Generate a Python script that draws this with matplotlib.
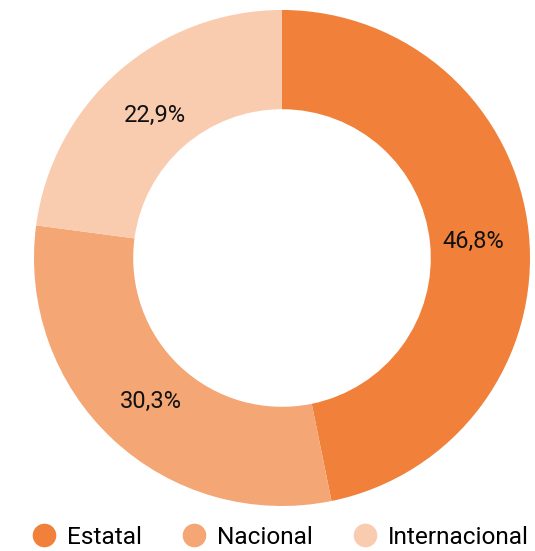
import numpy as np
import matplotlib.pyplot as plt
from matplotlib.lines import Line2D

plt.rcParams['font.family'] = ['Roboto', 'DejaVu Sans']

categories = ["Estatal", "Nacional", "Internacional"]
values = [46.8, 30.3, 22.9]
labels = ["46,8%", "30,3%", "22,9%"]
colors = ["#F0803A", "#F4A674", "#F9CBAF"]

W, H = 535, 551
fig = plt.figure(figsize=(W / 100, H / 100), dpi=100)
cx, cy, r = 282, 258, 248
ax = fig.add_axes([(cx - r) / W, (H - cy - r) / H, 2 * r / W, 2 * r / H])

wedges, _ = ax.pie(values, colors=colors, startangle=90, counterclock=False,
                   radius=1, wedgeprops=dict(width=0.4, edgecolor="none"))
ax.set_xlim(-1, 1)
ax.set_ylim(-1, 1)
ax.set_aspect("equal")
ax.axis("off")

# percentage labels in the middle of the ring
start = 90
for v, lab in zip(values, labels):
    ang = np.deg2rad(start - v * 3.6 / 2)
    ax.text(0.775 * np.cos(ang), 0.775 * np.sin(ang) - 0.01, lab, ha="center",
            va="center", fontsize=17, color="#111111")
    start -= v * 3.6

handles = [Line2D([], [], marker="o", linestyle="none", markersize=17,
                  markerfacecolor=c, markeredgecolor="none") for c in colors]
fig.legend(handles, categories, loc="center", ncol=3, frameon=False,
           fontsize=17.6, bbox_to_anchor=(280.5 / W, 1 - 537 / H), handletextpad=0.45,
           columnspacing=1.65, handlelength=0.97, borderpad=0)

fig.savefig("out.png", dpi=100)
